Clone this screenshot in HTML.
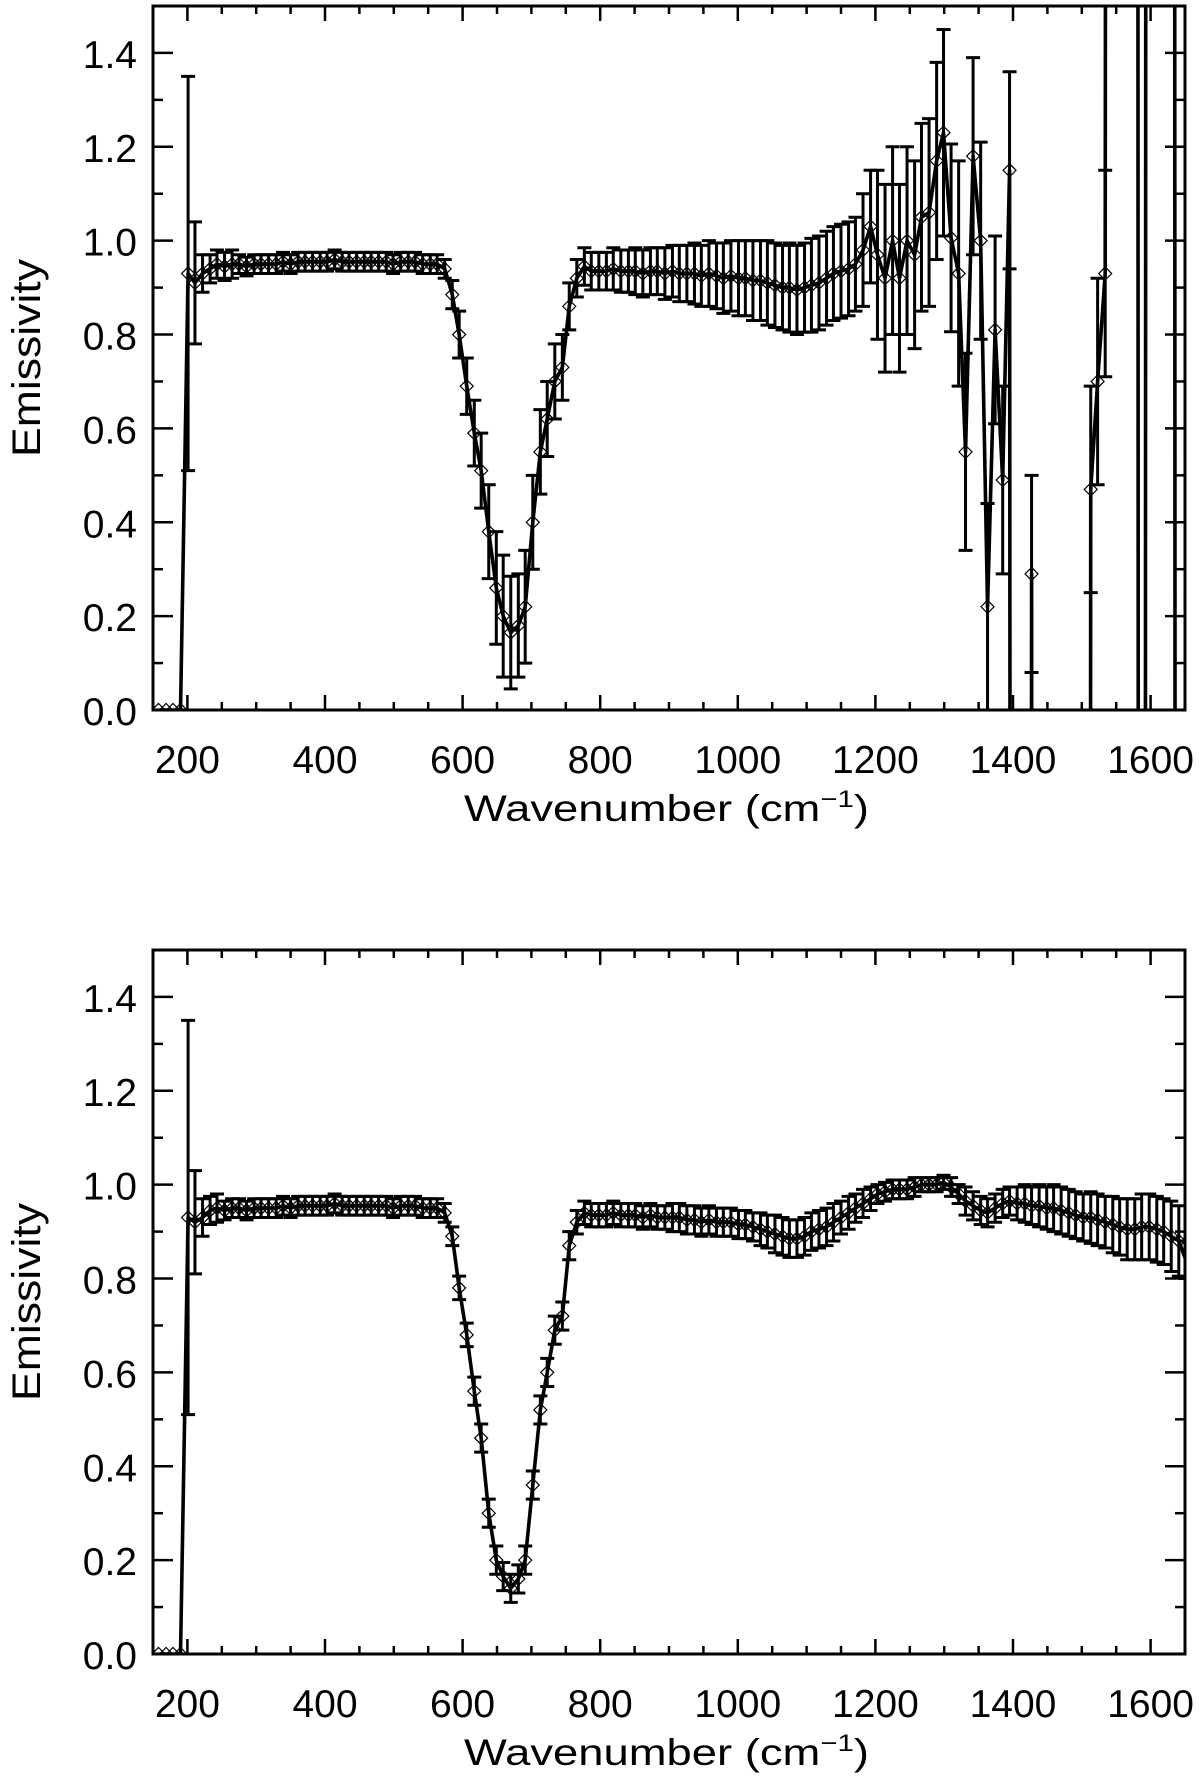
<!DOCTYPE html>
<html><head><meta charset="utf-8"><style>
html,body{margin:0;padding:0;background:#fff;overflow:hidden;width:1200px;height:1779px;}
svg{display:block;font-family:"Liberation Sans","DejaVu Sans",sans-serif;overflow:hidden;}
</style></head>
<body>
<svg id="chart" width="1200" height="1779" viewBox="0 0 1200 1779" xmlns="http://www.w3.org/2000/svg">
<defs>
<clipPath id="clipTop"><rect x="153" y="6" width="1032" height="704"/></clipPath>
<clipPath id="clipBot"><rect x="153" y="950" width="1032" height="704"/></clipPath>
</defs>
</svg>
<script>
const wavenumbers = [158,169,179,190,201,211,222,233,243,254,
265,275,286,297,307,318,329,339,350,361,
371,382,393,403,414,425,435,446,457,467,
478,489,499,510,521,531,542,553,563,574,
585,595,606,617,627,638,649,659,670,681,
691,702,713,723,734,745,755,766,777,787,
798,809,819,830,841,851,862,873,883,894,
905,915,926,937,947,958,969,979,990,1001,
1011,1022,1033,1043,1054,1065,1075,1086,1097,1107,
1118,1129,1139,1150,1161,1171,1182,1193,1203,1214,
1225,1235,1246,1257,1267,1278,1289,1299,1310,1321,
1331,1342,1353,1363,1374,1385,1395,1406,1417,1427,
1438,1449,1459,1470,1481,1491,1502,1513,1523,1534,
1545,1555,1566,1577,1587,1598,1609,1619,1630,1641,
1651];
const topValues = [0,0,0,0,0.93,0.91,0.93,0.94,0.95,0.945,
0.95,0.95,0.945,0.95,0.95,0.95,0.95,0.955,0.95,0.955,
0.955,0.955,0.955,0.955,0.96,0.955,0.955,0.955,0.955,0.955,
0.955,0.955,0.95,0.955,0.955,0.955,0.95,0.95,0.95,0.94,
0.885,0.80,0.69,0.59,0.51,0.38,0.26,0.20,0.165,0.18,
0.22,0.40,0.55,0.62,0.70,0.73,0.86,0.92,0.945,0.935,
0.935,0.935,0.94,0.935,0.935,0.935,0.93,0.935,0.935,0.93,
0.935,0.93,0.93,0.93,0.925,0.93,0.925,0.92,0.925,0.92,
0.92,0.915,0.915,0.91,0.905,0.9,0.9,0.895,0.9,0.905,
0.91,0.92,0.93,0.935,0.94,0.95,0.98,1.03,0.97,0.92,
1.0,0.92,1.0,0.97,1.05,1.06,1.17,1.23,1.006,0.93,
0.55,1.18,1.0,0.22,0.81,0.49,1.15,-20,-20,0.29,
-20,-20,-20,-20,-20,-20,-20,0.47,0.70,0.93,
20,20,20,20,-20,20,20,20,20,-20,
-20];
const topErrors = [0,0,0,0,0.42,0.13,0.04,0.03,0.03,0.03,
0.03,0.02,0.02,0.02,0.02,0.02,0.02,0.02,0.02,0.02,
0.02,0.02,0.02,0.02,0.02,0.02,0.02,0.02,0.02,0.02,
0.02,0.02,0.02,0.02,0.02,0.02,0.02,0.02,0.02,0.02,
0.03,0.05,0.06,0.07,0.08,0.10,0.12,0.13,0.12,0.11,
0.12,0.10,0.09,0.08,0.08,0.07,0.05,0.04,0.04,0.04,
0.04,0.04,0.045,0.045,0.045,0.05,0.05,0.05,0.05,0.055,
0.055,0.06,0.06,0.065,0.065,0.07,0.07,0.075,0.075,0.08,
0.08,0.085,0.085,0.09,0.09,0.09,0.095,0.095,0.095,0.1,
0.1,0.1,0.1,0.1,0.1,0.1,0.12,0.12,0.18,0.2,
0.2,0.2,0.2,0.2,0.2,0.2,0.21,0.22,0.2,0.24,
0.21,0.21,0.21,0.22,0.2,0.2,0.21,0,0,0.21,
0,0,0,0,0,0,0,0.22,0.22,0.22,
0,0,0,0,0,0,0,0,0,0,
0];
const bottomValues = [0,0,0,0,0.93,0.92,0.93,0.945,0.95,0.945,
0.95,0.95,0.945,0.95,0.95,0.95,0.95,0.955,0.95,0.955,
0.955,0.955,0.955,0.955,0.96,0.955,0.955,0.955,0.955,0.955,
0.955,0.955,0.95,0.955,0.955,0.955,0.95,0.95,0.95,0.94,
0.89,0.78,0.68,0.56,0.46,0.30,0.20,0.165,0.14,0.16,
0.20,0.36,0.52,0.60,0.69,0.72,0.87,0.92,0.94,0.935,
0.935,0.935,0.94,0.935,0.935,0.935,0.93,0.935,0.93,0.93,
0.93,0.93,0.925,0.925,0.92,0.925,0.92,0.92,0.92,0.915,
0.915,0.91,0.905,0.9,0.895,0.89,0.885,0.885,0.89,0.9,
0.905,0.91,0.92,0.93,0.94,0.95,0.96,0.97,0.98,0.985,
0.99,0.99,0.99,0.995,1.0,1.0,1.0,1.005,0.995,0.98,
0.965,0.955,0.945,0.94,0.95,0.96,0.965,0.96,0.96,0.955,
0.955,0.95,0.95,0.945,0.94,0.935,0.93,0.93,0.925,0.92,
0.915,0.91,0.905,0.905,0.91,0.91,0.905,0.9,0.89,0.88,
0.84];
const bottomErrors = [0,0,0,0,0.42,0.11,0.04,0.03,0.03,0.02,
0.02,0.02,0.02,0.02,0.02,0.02,0.02,0.02,0.02,0.02,
0.02,0.02,0.02,0.02,0.02,0.02,0.02,0.02,0.02,0.02,
0.02,0.02,0.02,0.02,0.02,0.02,0.02,0.02,0.02,0.02,
0.02,0.025,0.025,0.03,0.03,0.03,0.03,0.03,0.03,0.03,
0.03,0.03,0.03,0.03,0.03,0.03,0.03,0.025,0.025,0.025,
0.025,0.025,0.025,0.025,0.025,0.025,0.025,0.025,0.025,0.025,
0.03,0.03,0.03,0.03,0.03,0.03,0.03,0.03,0.03,0.03,
0.03,0.03,0.035,0.035,0.04,0.04,0.04,0.04,0.04,0.04,
0.04,0.04,0.04,0.035,0.035,0.03,0.03,0.025,0.02,0.02,
0.02,0.02,0.02,0.02,0.015,0.015,0.015,0.015,0.02,0.02,
0.03,0.03,0.03,0.03,0.03,0.03,0.03,0.035,0.04,0.04,
0.045,0.045,0.05,0.05,0.05,0.05,0.05,0.055,0.055,0.055,
0.06,0.06,0.065,0.065,0.07,0.07,0.07,0.07,0.075,0.075,
0.04];
const xTickLabels = ["200","400","600","800","1000","1200","1400","1600"];
const yTickLabels = ["0.0","0.2","0.4","0.6","0.8","1.0","1.2","1.4"];

const NS = "http://www.w3.org/2000/svg";
const svg = document.getElementById('chart');
const X0 = 153, X1 = 1185, XMIN = 150, XMAX = 1650, YMIN = 0, YMAX = 1.5;
const LO = YMIN - 0.02, HI = YMAX + 0.02;
function xScale(v){ return X0 + (v - XMIN) / (XMAX - XMIN) * (X1 - X0); }
function mk(tag, attrs, parent){
  const e = document.createElementNS(NS, tag);
  for (const k in attrs) e.setAttribute(k, attrs[k]);
  (parent || svg).appendChild(e);
  return e;
}
function clipSeg(xa, ya, xb, yb){
  // clip segment in data space to LO..HI (y) and XMIN..XMAX (x)
  let t0 = 0, t1 = 1;
  const dx = xb - xa, dy = yb - ya;
  const tests = [[-dy, ya - LO], [dy, HI - ya], [-dx, xa - XMIN], [dx, XMAX - xa]];
  for (const [p, q] of tests){
    if (p === 0){ if (q < 0) return null; }
    else {
      const r = q / p;
      if (p < 0){ if (r > t1) return null; if (r > t0) t0 = r; }
      else { if (r < t0) return null; if (r < t1) t1 = r; }
    }
  }
  return [xa + t0*dx, ya + t0*dy, xa + t1*dx, ya + t1*dy];
}
function panel(top, bottom, vals, errs, clipId, prefix){
  const yScale = v => bottom - (v - YMIN) / (YMAX - YMIN) * (bottom - top);
  const g = mk('g', {});
  
  
  const frame = mk('rect', {x:X0, y:top, width:X1-X0, height:bottom-top, fill:'none', stroke:'#000', 'stroke-width':3}, g);
  
  
  for (let v = 200; v <= 1650; v += 50){
    const major = (v % 200 === 0);
    const L = major ? 15 : 8, x = xScale(v);
    const t1 = mk('line', {x1:x, x2:x, y1:bottom, y2:bottom-L, stroke:'#000', 'stroke-width':2.5}, g);
    
    
    const t2 = mk('line', {x1:x, x2:x, y1:top, y2:top+L, stroke:'#000', 'stroke-width':2.5}, g);
    
    
  }
  xTickLabels.forEach(lbl => {
    const t = mk('text', {x:xScale(+lbl), y:bottom+63, 'font-size':39, 'text-anchor':'middle', fill:'#000'}, g);
    t.textContent = lbl;
    
    
  });
  for (let i = 1; i < 15; i++){
    const v = i / 10, y = yScale(v), major = (i % 2 === 0), L = major ? 20 : 10;
    const t1 = mk('line', {x1:X0, x2:X0+L, y1:y, y2:y, stroke:'#000', 'stroke-width':2.5}, g);
    
    
    const t2 = mk('line', {x1:X1, x2:X1-L, y1:y, y2:y, stroke:'#000', 'stroke-width':2.5}, g);
    
    
  }
  yTickLabels.forEach(lbl => {
    const t = mk('text', {x:137, y:yScale(+lbl)+15, 'font-size':39, 'text-anchor':'end', fill:'#000'}, g);
    t.textContent = lbl;
    
    
  });
  const xt = mk('text', {x:464, y:bottom+111, 'font-size':37, fill:'#000', textLength:405, lengthAdjust:'spacingAndGlyphs'}, g);
  xt.innerHTML = 'Wavenumber (cm<tspan dy="-14" font-size="24">−1</tspan><tspan dy="14">)</tspan>';
  
  
  const cy = (top + bottom) / 2;
  const yt = mk('text', {x:0, y:0, 'font-size':40, 'text-anchor':'middle', fill:'#000', textLength:198, lengthAdjust:'spacingAndGlyphs', transform:`translate(40,${cy}) rotate(-90)`}, g);
  yt.textContent = 'Emissivity';
  
  
  const dg = mk('g', {'clip-path':`url(#${clipId})`}, g);
  
  
  vals.forEach((v, i) => {
    const e = errs[i];
    if (e > 0){
      const x = xScale(wavenumbers[i]);
      const yt1 = yScale(Math.min(v + e, HI)), yb = yScale(Math.max(v - e, LO));
      let d = `M${x},${yt1}V${yb}`;
      if (v + e <= HI) d += `M${x-7},${yt1}H${x+7}`;
      if (v - e >= LO) d += `M${x-7},${yb}H${x+7}`;
      const eb = mk('path', {d:d, stroke:'#000', 'stroke-width':3, fill:'none'}, dg);
      
      
    }
  });
  let d = '', penX = null, penY = null;
  for (let i = 0; i < vals.length - 1; i++){
    const s = clipSeg(wavenumbers[i], vals[i], wavenumbers[i+1], vals[i+1]);
    if (!s) continue;
    const ax = xScale(s[0]), ay = yScale(s[1]), bx = xScale(s[2]), by = yScale(s[3]);
    if (penX === null || Math.abs(penX-ax) > 0.01 || Math.abs(penY-ay) > 0.01) d += `M${ax.toFixed(2)},${ay.toFixed(2)}`;
    d += `L${bx.toFixed(2)},${by.toFixed(2)}`;
    penX = bx; penY = by;
  }
  const line = mk('path', {d:d, fill:'none', stroke:'#000', 'stroke-width':3.6, 'stroke-linejoin':'round'}, dg);
  
  
  vals.forEach((v, i) => {
    if (v < LO || v > HI || wavenumbers[i] > XMAX) return;
    const x = xScale(wavenumbers[i]), y = yScale(v), r = 6.5;
    const dm = mk('path', {d:`M${x-r},${y}L${x},${y-r}L${x+r},${y}L${x},${y+r}Z`, fill:'none', stroke:'#000', 'stroke-width':1.2}, dg);
    
    
  });
}
panel(6, 710, topValues, topErrors, 'clipTop', 'top');
panel(950, 1654, bottomValues, bottomErrors, 'clipBot', 'bottom');
</script>
</body></html>
